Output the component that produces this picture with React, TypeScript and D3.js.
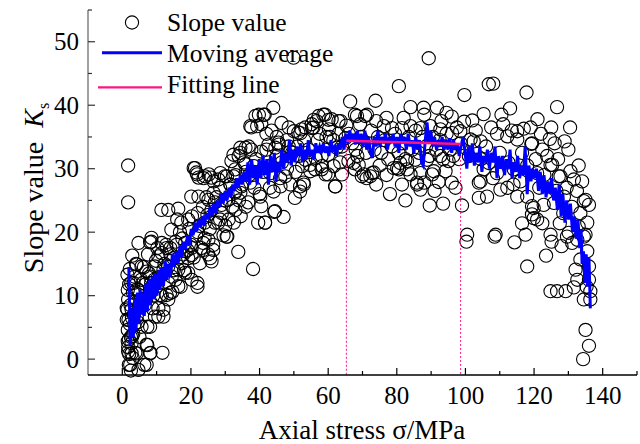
import React from "react";
import * as d3 from "d3";

const W = 640;
const H = 444;

const xMajorTicks = [0, 20, 40, 60, 80, 100, 120, 140];
const xMinorTicks = [10, 30, 50, 70, 90, 110, 130, 150];
const yMajorTicks = [0, 10, 20, 30, 40, 50];
const yMinorTicks = [5, 15, 25, 35, 45, 55];

const legendLabels = ["Slope value", "Moving average", "Fitting line"];

// Slope value points [axial stress (MPa), slope value]
const slopePoints: [number, number][] = [
  [1.5,13.3],[1.6,10.9],[1.7,9.4],[1.5,7.8],[1.8,6.2],[1.6,4.6],[1.9,3.1],[1.7,1.9],[2.0,0.8],[2.3,-0.9],
  [2.6,12],[2.4,8.5],[2.2,5.5],[2.7,2.5],[3.0,0.2],[3.2,4],[3.4,7],[3.1,10.5],[3.6,13],[2.9,16.3],
  [1.7,30.5],[1.7,24.7],[3.8,1],[1.7,1.2],[4.7,-1.7],[6.4,-0.9],[2.5,-1.8],[4.0,15],[4.7,18.3],[4.3,11],
  [3.9,8.8],[4.5,5.8],[1.3,8],[1.3,6.2],[1.6,2.8],[2.7,0.9],[4.2,0.9],[1.9,-0.9],[4.2,14.9],[2.7,7.8],
  [3.9,9.1],[4.2,6.7],[2.9,3.6],[4.7,10.9],[2.0,11.8],[2.2,14.2],[3.3,12],[2.5,3.5],[3.5,5.5],[2.8,6.5],
  [5.0,3.5],[5.5,12.5],[5.9,9.5],[6.3,14.5],[6.8,11.8],[7.3,5.1],[7.3,2.2],[8.2,1],[11.7,1],[8.5,18.5],
  [8.5,19.1],[7.5,16.5],[7.8,13.5],[8.3,10.5],[8.8,8],[9.3,12.5],[9.8,15.5],[10.5,6.7],[10.2,17.5],[11.0,13],
  [11.5,10],[12,7.8],[12.3,15],[12.8,18],[13.4,9.4],[13.5,12],[14.6,10.6],[14.3,20.4],[14,16.5],[15,14],
  [15.5,18.5],[16,22],[16.5,16],[17,11.4],[17.2,21.5],[17.5,19],[18,14],[18.5,17],[19.2,13.6],[19.2,22],
  [19.5,20.5],[8.1,18.4],[11.5,18.3],[12.9,17.5],[15.8,18],[18.3,18.3],[8.1,0.9],[7.1,-0.9],[8.1,5.1],[7.1,2.3],
  [9.5,6.7],[12,6.7],[10.5,8],[13.9,10.4],[16.3,11.5],[12,14.1],[9.5,14.6],[7.1,13.8],[5.6,14.6],[8.1,13],
  [8.4,12],[10.5,16.2],[11.5,16.7],[13.4,14.6],[14.4,13],[16.3,14.1],[17.3,15.1],[18.3,13.6],[14.9,15.9],[5.6,5.1],
  [6,12],[12.9,10.1],[11,10.1],[11.4,23.5],[13.4,23.5],[16.3,23.7],[6.5,8.5],[9,10],[10,11.5],[15.5,12.5],
  [17.8,16.5],[19,17.2],[16.8,20],[14,17.5],[7,9.5],
  [20,18],[20.3,22.5],[20.8,16],[21.9,12],[21.9,11.4],[21.5,19.5],[22,23],[22.5,21],[23,17.5],[23.5,24],
  [24,19],[24.8,22.7],[24.5,25.5],[25,16.5],[25.5,20.5],[26,23.5],[26.5,18],[27,21.5],[27.5,25.5],[28,21.5],
  [28.5,27],[29,23],[29.5,19.5],[30,25],[30.6,19.3],[31,22],[31.5,27.5],[32,24],[32.5,21.5],[33,29],
  [33.8,16.9],[34,25],[34.5,22.5],[35,27.5],[35.5,31],[36,24],[36.7,24.7],[37,29],[37.6,33],[38.1,14.2],
  [38.5,27],[39,31.5],[20.2,17.5],[23.6,18.3],[26.5,17.2],[25.1,18.8],[30.4,19.3],[20.2,12.5],[19.2,15.9],[20.2,16.4],
  [23.6,17.2],[26,15.4],[25.6,15.9],[22.6,15.1],[21.2,30.1],[21.6,29.4],[22.2,28.6],[24.1,28.8],[25.9,28.6],[28,28.3],
  [29.9,28.8],[31.8,31.2],[32.9,29.9],[32.4,28.8],[34.4,32.5],[35.9,33.3],[20.1,25.6],[22.2,25.6],[25.1,25.1],[27,24.7],
  [28.9,24.3],[30.9,25.1],[32.9,26.2],[34.7,27.2],[37.6,36.5],[39.8,38.5],[38.8,38.3],[37.3,36.7],[39.3,36.7],[34.4,33.3],
  [36.8,33.5],[32.4,32.2],[33.9,32],[35.9,30.7],[38.3,30.4],[20.8,30.1],[21.8,29.1],[23.7,28.5],[25.2,29.1],[26.6,28],
  [28.6,29.3],[30.5,28.8],[31.5,27.5],[32.9,26.4],[34.4,26.2],[37.3,27.8],[26.6,26.2],[28.5,22],[30,21],[24,21.5],
  [22,20],[36,29.5],[33,23.5],
  [40,26],[40.5,24.1],[41,29.5],[41.6,21.5],[42,33],[42.6,33.8],[43,27],[43.5,30.5],[44.3,23.2],[45,35],
  [45.5,34.1],[46,28.5],[46.5,31],[47,22.4],[48,30],[48.5,36.5],[49,27.5],[49.5,32.5],[50,35.9],[50.3,25.4],
  [51,33.5],[51.3,35.7],[51.8,27.2],[52.2,36.2],[52.8,27.8],[53.3,31.4],[53.3,36.5],[54.2,33],[54.7,30.6],[55.2,37],
  [55.7,36.5],[56.2,29.9],[56.6,37.5],[57,34.5],[58.1,29.9],[58.1,32],[59.1,38.5],[59.5,35],[60,29.1],[60,32.2],
  [61,37.8],[61.5,34.5],[62,27.2],[62.5,33.3],[63,37.5],[63.5,31],[64,29.1],[64,33.5],[39.6,21.5],[41.6,21.5],
  [44.5,23.3],[40.5,37],[41.5,38.5],[44,39.6],[46.4,37.2],[49.9,47.5],[40.5,32.7],[41.2,30.1],[43.1,29.3],[45.1,32],
  [45.6,33.8],[48.5,33.5],[49,32.7],[51.4,32],[52.4,30.4],[54.8,29.6],[56.3,31.7],[52.9,27.5],[51.8,26.4],[46.1,27.2],
  [44.1,26.4],[40.2,25.6],[41.2,38.5],[51.9,35.6],[55.3,36.4],[55.8,37.7],[57.2,38.3],[58.6,38.5],[60.1,37.7],[63.6,37.5],
  [62.1,27.2],[59.2,29.1],[61.6,30.4],[58.2,30.4],[44.6,33.3],[48,34.5],[53,34.5],[57.5,35.5],[60.5,35],[63,35.5],
  [47.5,28.8],[50.5,29.5],[43.5,36],[42,35.5],[60.2,36.2],[65,34.8],
  [65.3,36.8],[65.9,31.2],[66.4,40.6],[67,34],[67.8,38.5],[67.8,29.9],[68.5,32],[69.3,37],[69.8,28.8],[70.8,38.3],
  [71.2,28.5],[73.8,40.7],[80.6,43],[89.3,47.4],[84,39.7],[87.8,39.6],[91.7,39.6],[94.5,38.8],[71.3,38.5],[68.4,38.3],
  [99.6,37.4],[97.1,27],[89.6,24.2],[92.2,27.9],[86.9,26.7],[85.9,27.5],[81.5,27.5],[80.1,30.1],[79.1,30.1],[73.3,29.4],
  [70.4,29.1],[84,29.1],[86.9,29.3],[90.3,29.1],[94.2,29.6],[95.1,31.2],[92.7,32],[88.8,31.4],[85.4,31.4],[83,31.2],
  [81,30.9],[68.9,30.6],[67.4,30.9],[72.8,29.3],[72.3,28.8],[80.6,29.9],[83,29.9],[85.9,27.8],[90.8,29.6],[76.2,36.7],
  [78.6,36.4],[81.5,36.4],[84,36.7],[86.9,36.4],[89.8,36.7],[92.7,36.2],[96.1,35.6],[98.5,35.9],[99.7,41.6],[98.6,34],
  [99,24.2],[66,35.5],[68,33],[69.5,35],[71,32.5],[72.5,36],[73.5,33],[74.5,35],[75.5,32.5],[76.5,34.5],
  [77.5,31.5],[78.5,33.5],[79.5,35.5],[80.5,32.5],[81.5,34],[82.5,31.5],[83.5,35],[84.5,33],[85.5,36],[86.5,32.5],
  [87.5,35],[88.5,33.5],[89.5,32],[90.5,35],[91.5,33],[92.5,34.5],[93.5,31.5],[94.5,35.5],[95.5,33],[96.5,32],
  [97.5,36.5],[98.2,31.5],[74,37.5],[77,38],[82,38],[88,38.5],[93,37.5],[96,38.2],[75,30.5],[77,29],
  [88,27.8],[91,26.5],[96,27.8],[74,27.5],[78,26],[82.5,25],[93.5,24.5],
  [106.8,43.3],[108.1,43.4],[117.8,42],[126.7,39.7],[105.3,38.6],[102,37.6],[117,36.3],[115.1,35.9],[109.2,35.5],[124.6,34.7],
  [128.9,34.3],[119.4,34],[122.4,33],[123.8,32],[125.3,30.6],[127.7,28.8],[130.6,29.6],[131.6,28.3],[134.5,24.9],[136,24.3],
  [128.7,25.6],[125.8,24.6],[122.8,24.3],[119.9,23.8],[116.5,21.4],[119.9,22.2],[122.4,21.4],[127.5,21.4],[133,20.9],[135,19.6],
  [130.1,19.9],[124.8,19.6],[117.5,19.6],[108.8,19.6],[100.5,19.6],[104.4,34.3],[102.4,34.3],[104.4,28],[106.3,25.6],[103.9,25.4],
  [110.2,26.7],[112.2,27],[115.1,25.6],[118,25.6],[119.4,24.1],[112.2,35.1],[115.1,34.6],[119.2,33.9],[127.2,28.8],[124.8,30.6],
  [120.9,29.3],[116,28],[114.1,29.9],[109.2,29.3],[106.8,30.9],[105.3,29.9],[103.9,27.8],[135,25.1],[101.5,34.6],[100.3,18.5],
  [108.5,19.3],[114.3,18.4],[118,14.6],[123.5,16.3],[125.1,18.5],[128,17.8],[129.6,19.3],[131.1,18.3],[135.3,11.4],[132.1,14.1],
  [132.6,12.5],[133.5,15.7],[136,14.6],[136,12.5],[124.8,10.7],[126.7,10.7],[129.2,10.7],[131.6,11.3],[136.4,10.7],[136.4,9.4],
  [134.5,9.4],[135,4.6],[136,2.1],[134.3,0],[119.4,22.8],[120.9,22],[132.6,18.8],[134.5,19.3],[135.5,17],
  [101,32],[103,36],[104.5,31.5],[106,33.5],[107.5,36.5],[108,28.5],[110,32.5],[111,37],[112.5,31],[113.5,36],
  [114,27.5],[116.5,32.5],[118,30.5],[119,36.5],[120.5,31.5],[121.5,27],[122,35.5],[123,29],[126,34],[127,31.5],
  [128.5,23],[129.5,27],[130,33],[131,24],[132.5,26.5],[133.5,23],[134,28],[135.5,21.5],[133,30.5],[126.5,26.5],
  [110.5,38.5],[113,39.5],[121,37.8],[125,36.5],[130.5,36.5],
];

// Moving average [axial stress (MPa), slope value]
const movingAverage: [number, number][] = [
  [1.9,14.5],[2.3,2.2],[2.8,8],[3.2,3.5],[3.6,9.5],[4.0,4.5],[4.4,10.5],[4.8,5.5],[5.2,11],[5.6,7],
  [6.0,10.5],[6.4,6.8],[6.9,12],[7.3,7.5],[7.8,12.5],[8.2,8.5],[8.7,13],[9.1,9.5],[9.6,13.5],[10.1,10],
  [10.6,14],[11.0,11],[11.5,14.5],[12.0,11.5],[12.5,15.5],[13.0,12.5],[13.5,15],[14.0,13],[14.6,16.5],[15.1,14.5],
  [15.7,17],[16.2,15],[16.8,17.8],[17.3,16],[17.9,18.5],[18.4,17.3],[19.0,19.5],[19.5,18],[20.1,20.5],[20.6,19.5],
  [21.2,21.5],[21.7,20.2],[22.3,22],[22.8,20.8],[23.4,22.5],[23.9,21],[24.5,23],[25.0,22],[25.6,24],[26.1,22.5],
  [26.7,24.5],[27.2,23],[27.8,25],[28.3,24],[28.9,26],[29.4,24.5],[30.0,26.5],[30.5,25],[31.1,27],[31.6,25.5],
  [32.2,27.5],[32.7,26.5],[33.3,28.5],[33.8,27],[34.4,29],[34.9,27.5],[35.5,29.5],[36.0,28],[36.6,31],[37.1,27.5],
  [37.7,31.5],[38.2,28.5],[38.8,30.5],[39.3,27.5],[39.9,31.5],[40.4,28.5],[41.0,32],[41.5,29],[42.1,31.5],[42.6,27.5],
  [43.2,32],[43.7,29.5],[44.3,32.5],[44.8,28],[45.4,31],[45.9,29.5],[46.5,33],[47.0,30],[47.6,32.5],[48.1,31],
  [48.7,34.5],[49.2,30.5],[49.8,33],[50.3,31],[50.9,33.5],[51.4,32],[52.0,34],[52.5,31],[53.1,33],[53.6,31.5],
  [54.2,34.5],[54.7,32],[55.3,33],[55.8,31.5],[56.4,34],[56.9,32.5],[57.5,33.5],[58.0,32.5],[58.6,34],[59.1,32.5],
  [59.7,33.5],[60.2,32],[60.8,34.5],[61.3,33],[61.9,33.5],[62.4,32],[63.0,34],[63.5,33],[64.1,35],[64.6,33],
  [65.2,35.5],[65.7,34],[66.3,36],[66.8,34.5],[67.4,35.5],[67.9,33.8],[68.5,36],[69.0,34],[69.6,35.5],[70.1,33.5],
  [70.7,36],[71.2,33],[71.8,35],[72.3,32.5],[72.9,31.7],[73.4,35],[74.0,33.5],[74.5,36],[75.1,33.5],[75.6,35],
  [76.2,34],[76.7,35.5],[77.3,33],[77.8,35],[78.4,34],[78.9,35.5],[79.5,33.5],[80.0,35],[80.6,32.5],[81.1,35.5],
  [81.7,34],[82.2,35],[82.8,33],[83.3,35.5],[83.9,33.5],[84.4,34.5],[85.0,32.5],[85.5,35],[86.1,33],[86.6,34.5],
  [87.2,31],[87.7,30.5],[88.3,34.5],[88.8,37.3],[89.4,34],[89.9,36],[90.5,33.5],[91.0,35],[91.6,33],[92.1,34.5],
  [92.7,33.5],[93.2,35],[93.8,33],[94.3,34.5],[94.9,33],[95.4,34.8],[96.0,32.5],[96.5,34.5],[97.1,33],[97.6,34],
  [98.2,32],[98.7,33.5],[99.3,35],[99.8,33],[100.4,30],[100.9,33.5],[101.5,31],[102.0,34],[102.6,30.5],[103.1,32.5],
  [103.7,31],[104.2,33.5],[104.8,29.5],[105.3,32],[105.9,31],[106.4,33],[107.0,30],[107.5,32.5],[108.1,31],[108.6,33.5],
  [109.2,28.5],[109.7,32],[110.3,30],[110.8,32],[111.4,29],[111.9,31.5],[112.5,30],[113.0,33],[113.6,28.5],[114.1,31],
  [114.7,29.5],[115.2,32],[115.8,28.5],[116.3,30.5],[116.9,29],[117.4,33.5],[118.0,26],[118.5,30.5],[119.1,28],[119.6,30],
  [120.2,28.5],[120.7,30],[121.3,26.5],[121.8,29.5],[122.4,26],[122.9,29],[123.5,25.5],[124.0,28],[124.6,26],[125.1,28.5],
  [125.7,25],[126.2,27],[126.8,23.5],[127.3,27.5],[127.9,22.5],[128.4,26],[129.0,21.5],[129.5,25],[130.1,22],[130.6,24.5],
  [131.2,20],[131.7,22.5],[132.3,19],[132.8,22],[133.3,17.5],[133.7,20.5],[134.0,15],[134.4,17],[134.8,12],[135.2,16.5],
  [135.6,11.5],[136.0,16],[136.4,8],
];

const fitX = [65.3, 98.6];
const fitY = [34.4, 33.9];

const FONT = "'Liberation Serif', 'Times New Roman', Times, serif";

export default function App() {
  const x = d3.scaleLinear().domain([-10, 150]).range([88, 637]);
  const y = d3.scaleLinear().domain([-2.5, 55]).range([375, 10]);

  const line = d3
    .line<[number, number]>()
    .x((d) => x(d[0]))
    .y((d) => y(d[1]));

  const fitData: [number, number][] = fitX.map((v, i) => [v, fitY[i]]);

  const pink = "#ff1480";
  const blue = "#0000ff";

  return (
    <svg
      width={W}
      height={H}
      style={{ position: "absolute", left: 0, top: 0, background: "#fff" }}
      fontFamily={FONT}
    >
      <rect x={0} y={0} width={W} height={H} fill="#fff" />

      {/* scatter */}
      <g>
        {slopePoints.map((d, i) => (
          <circle
            key={i}
            cx={x(d[0])}
            cy={y(d[1])}
            r={6.6}
            fill="none"
            stroke="#000"
            strokeWidth={1.1}
          />
        ))}
      </g>

      {/* dashed verticals */}
      {fitData.map((d, i) => (
        <line
          key={i}
          x1={x(d[0])}
          x2={x(d[0])}
          y1={y(d[1])}
          y2={375}
          stroke={pink}
          strokeWidth={1}
          strokeDasharray="2,2"
        />
      ))}

      {/* moving average */}
      <path d={line(movingAverage) || ""} fill="none" stroke={blue} strokeWidth={3} strokeLinejoin="miter" />

      {/* fitting line */}
      <path d={line(fitData) || ""} fill="none" stroke={pink} strokeWidth={2.5} />

      {/* left axis */}
      <line x1={88} x2={88} y1={10} y2={375} stroke="#808080" strokeWidth={1.5} />
      {yMajorTicks.map((t) => (
        <g key={"ym" + t}>
          <line x1={88} x2={95} y1={y(t)} y2={y(t)} stroke="#333" strokeWidth={1.2} />
          <text x={79} y={y(t)} dy="0.34em" textAnchor="end" fontSize={25} fill="#000">
            {t}
          </text>
        </g>
      ))}
      {yMinorTicks.map((t) => (
        <line key={"yn" + t} x1={88} x2={92} y1={y(t)} y2={y(t)} stroke="#333" strokeWidth={1.2} />
      ))}

      {/* bottom axis */}
      <line x1={88} x2={637} y1={375} y2={375} stroke="#000" strokeWidth={1.5} />
      {xMajorTicks.map((t) => (
        <g key={"xm" + t}>
          <line x1={x(t)} x2={x(t)} y1={375} y2={368} stroke="#000" strokeWidth={1.2} />
          <text x={x(t)} y={404} textAnchor="middle" fontSize={25} fill="#000">
            {t}
          </text>
        </g>
      ))}
      {xMinorTicks.map((t) => (
        <line key={"xn" + t} x1={x(t)} x2={x(t)} y1={375} y2={371} stroke="#000" strokeWidth={1.2} />
      ))}

      {/* axis titles */}
      <text x={362} y={439} textAnchor="middle" fontSize={27} fill="#000">
        Axial stress σ/MPa
      </text>
      <text transform="translate(43,188) rotate(-90)" textAnchor="middle" fontSize={28} fill="#000">
        Slope value{"\u00a0\u00a0"}
        <tspan fontStyle="italic">K</tspan>
        <tspan fontSize={16} dy={6}>s</tspan>
      </text>

      {/* legend */}
      <g>
        <circle cx={132} cy={22.5} r={6.6} fill="none" stroke="#000" strokeWidth={1.1} />
        <text x={167} y={30.5} fontSize={25.5} fill="#000">{legendLabels[0]}</text>
        <line x1={102} x2={162} y1={52.7} y2={52.7} stroke={blue} strokeWidth={3} />
        <text x={167} y={61.5} fontSize={25.5} fill="#000">{legendLabels[1]}</text>
        <line x1={98} x2={162} y1={87.3} y2={87.3} stroke={pink} strokeWidth={2.2} />
        <text x={167} y={92.5} fontSize={25.5} fill="#000">{legendLabels[2]}</text>
      </g>
    </svg>
  );
}
